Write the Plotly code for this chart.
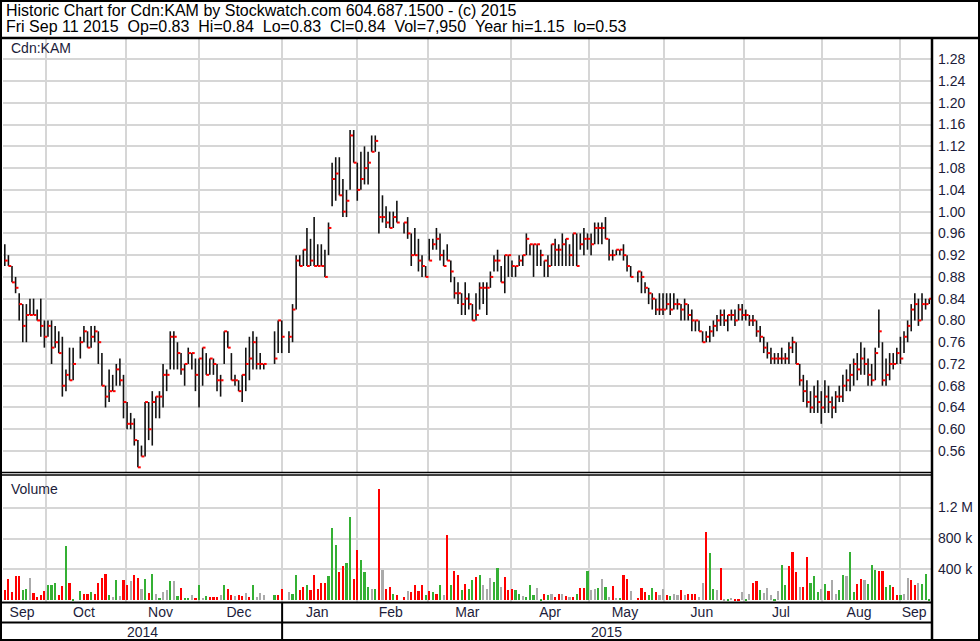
import plotly.graph_objects as go

# daily bars, Sep 2014 - Sep 11 2015 (None = no trade that day)
high = [
    .94, .92, .90, .88, .85, .83, .83, .84, .84, .82,
    .84, .80, .80, .80, .79, .78, .77, .71, .75, .75,
    None, .77, .79, .78, .79, .79, .78, .74, .68, .71,
    .70, .72, .73, .70, .65, .63, .62, .58, .57, .65,
    .65, .67, .66, .67, .72, .71, .78, .78, .76, .74,
    .72, .75, .74, .73, .73, .75, .74, .73, .73, .72,
    .70, .78, .78, .74, .70, .69, .70, .75, .77, .78,
    .77, .74, .72, None, None, .78, .80, .80, None, .78,
    .83, .92, .92, .93, .97, .95, .99, .94, .94, .93,
    .98, 1.09, 1.10, 1.10, 1.06, 1.04, 1.15, 1.15, 1.09, 1.11,
    1.12, 1.11, 1.14, 1.14, 1.11, 1.03, 1.01, 1.00, 1.00, 1.02,
    None, .98, .99, .96, .97, .95, .92, .90, .95, .95,
    .97, .96, .93, .94, .91, .88, .87, .85, .87, .85,
    .83, .85, .87, .87, .87, .89, .92, .93, .90, .92,
    .92, .91, .90, .92, .92, .96, .94, .94, .94, .93,
    .91, .92, .94, .95, .94, .96, .95, .94, .96, .96,
    .96, .97, .96, .96, .98, .98, .98, .99, .95, .93,
    .93, .93, .94, .92, .90, None, .89, .89, .87, .86,
    .85, .84, .85, .85, .85, .85, .85, .84, .83, .84,
    .83, .82, .80, .80, .78, .78, .79, .80, .81, .82,
    .82, .81, .82, .82, .83, .83, .82, .81, .81, .80,
    .79, .77, .76, .75, .74, .74, .75, .74, .76, .77,
    .76, .72, .70, .69, .67, .68, .69, .67, .69, .68,
    .66, .67, .68, .70, .71, .72, .73, .74, .76, .75,
    .73, .72, .75, .82, .76, .73, .74, .74, .75, .77,
    .78, .80, .83, .85, .84, .85, .84, .84,
]
low = [
    .90, .90, .87, .85, .80, .76, .76, .81, .81, .80,
    .77, .75, .77, .72, .75, .74, .66, .67, .69, .69,
    None, .73, .76, .75, .75, .76, .72, .68, .64, .65,
    .67, .68, .68, .62, .60, .60, .57, .53, .55, .55,
    .58, .57, .62, .62, .64, .67, .71, .71, .71, .70,
    .68, .72, .71, .67, .64, .68, .70, .70, .70, .67,
    .66, .72, .75, .69, .68, .67, .65, .67, .69, .71,
    .71, .71, .71, None, None, .72, .74, .74, None, .74,
    .76, .82, .90, .90, .90, .90, .90, .90, .90, .88,
    .92, 1.01, 1.02, 1.03, .99, .99, 1.04, 1.09, 1.02, 1.04,
    1.05, 1.05, 1.11, 1.11, .96, .98, .97, .97, .97, .98,
    None, .96, .95, .90, .92, .89, .88, .88, .91, .93,
    .93, .91, .90, .91, .87, .84, .83, .81, .81, .82,
    .80, .80, .82, .83, .81, .86, .89, .89, .87, .85,
    .88, .88, .88, .90, .90, .92, .92, .88, .90, .90,
    .88, .88, .90, .90, .90, .90, .90, .90, .90, .90,
    .93, .92, .93, .92, .94, .94, .94, .95, .91, .91,
    .92, .92, .91, .89, .88, None, .87, .85, .85, .83,
    .82, .81, .81, .81, .82, .81, .82, .82, .80, .80,
    .80, .78, .78, .78, .76, .76, .76, .77, .78, .79,
    .79, .78, .80, .79, .80, .80, .80, .79, .79, .77,
    .76, .74, .73, .72, .72, .72, .72, .72, .72, .74,
    .72, .68, .65, .64, .63, .63, .63, .61, .63, .63,
    .62, .63, .65, .65, .67, .67, .68, .69, .70, .70,
    .68, .68, .69, .75, .68, .68, .69, .71, .72, .72,
    .74, .76, .78, .80, .79, .80, .82, .83,
]
close = [
    .91, .90, .87, .86, .83, .79, .81, .81, .81, .80,
    .79, .77, .79, .75, .76, .74, .68, .70, .69, .72,
    None, .76, .78, .75, .77, .78, .76, .68, .66, .67,
    .67, .71, .69, .65, .61, .61, .58, .53, .55, .65,
    .60, .65, .66, .66, .70, .70, .77, .77, .74, .71,
    .72, .74, .74, .70, .73, .75, .70, .73, .72, .69,
    .69, .78, .75, .69, .69, .67, .70, .72, .73, .76,
    .72, .72, .72, None, None, .73, .80, .77, None, .77,
    .82, .91, .90, .93, .90, .91, .90, .90, .90, .88,
    .97, 1.06, 1.07, 1.03, 1.00, 1.02, 1.14, 1.09, 1.04, 1.06,
    1.08, 1.09, 1.11, 1.13, .99, .99, .98, .97, .99, .98,
    None, .98, .96, .92, .92, .91, .90, .88, .91, .94,
    .95, .92, .90, .91, .89, .85, .85, .83, .84, .83,
    .80, .81, .86, .86, .86, .88, .91, .91, .87, .92,
    .92, .90, .90, .91, .92, .95, .94, .94, .94, .92,
    .91, .90, .94, .93, .93, .94, .95, .92, .96, .90,
    .94, .95, .95, .94, .97, .97, .97, .95, .92, .92,
    .93, .93, .92, .90, .88, None, .89, .88, .86, .85,
    .84, .82, .82, .82, .83, .82, .83, .83, .82, .83,
    .81, .80, .80, .78, .76, .77, .78, .79, .80, .81,
    .80, .81, .81, .80, .82, .81, .81, .80, .80, .78,
    .77, .75, .74, .73, .73, .73, .73, .73, .75, .76,
    .72, .69, .67, .65, .64, .66, .65, .64, .66, .65,
    .64, .66, .66, .68, .69, .70, .72, .71, .73, .72,
    .70, .69, .74, .78, .69, .70, .72, .72, .74, .73,
    .77, .79, .82, .83, .80, .83, .83, .84,
]
# volume in thousands of shares
volume_k = [
    138, 280, 108, 318, 318, 138, 150, 288, 95, 50,
    65, 120, 206, 206, 224, 65, 181, 697, 224, 22,
    0, 120, 77, 77, 108, 86, 224, 288, 344, 65,
    43, 267, 52, 258, 206, 245, 331, 288, 150, 271,
    95, 344, 86, 34, 108, 138, 245, 245, 52, 159,
    30, 30, 65, 30, 206, 30, 56, 43, 43, 43,
    73, 202, 150, 65, 52, 65, 52, 95, 43, 194,
    43, 99, 65, 0, 0, 65, 65, 150, 0, 108,
    86, 331, 129, 172, 194, 129, 331, 150, 224, 224,
    314, 937, 710, 366, 439, 482, 1075, 280, 654, 516,
    366, 172, 150, 150, 1440, 387, 150, 172, 86, 65,
    0, 43, 120, 108, 206, 120, 206, 65, 120, 108,
    86, 194, 65, 851, 206, 378, 331, 129, 215, 150,
    258, 301, 335, 206, 150, 288, 236, 421, 172, 301,
    138, 150, 129, 77, 52, 43, 194, 65, 163, 22,
    86, 65, 86, 43, 86, 86, 52, 43, 43, 86,
    163, 163, 378, 129, 150, 163, 280, 172, 43, 181,
    34, 30, 331, 280, 120, 0, 34, 163, 108, 65,
    163, 108, 65, 150, 65, 52, 77, 65, 138, 65,
    86, 86, 86, 43, 224, 882, 611, 150, 129, 421,
    22, 22, 30, 9, 22, 108, 22, 86, 224, 245,
    129, 95, 163, 73, 22, 120, 452, 202, 439, 624,
    366, 172, 172, 559, 224, 318, 108, 150, 215, 120,
    258, 86, 129, 335, 310, 624, 108, 215, 280, 267,
    215, 452, 387, 374, 374, 172, 194, 172, 65, 65,
    86, 288, 258, 194, 224, 215, 344, 8,
]
# g = up, r = down, n = unchanged
volume_dir = (
    "rrrrrggnrr" "rrgggrrgrg"
    "ngrrgrrrrg" "ngnrrnrrng"
    "rgngnngngr" "ggnrgngrrr"
    "ngrrnrrnrg" "nnnnngrrnn"
    "ggrrgrrrrr" "gggrrggrrg"
    "ggngrnrrgr" "nrnrrrrgrg"
    "rgnrgrrgrg" "grgnnnggnr"
    "rrggngggng" "rgnrrnrnrg"
    "rrgnngngnr" "ngrrngrrrg"
    "grnnrgnnrn" "rrrnnrggnr"
    "ngnrrngnrr" "gnnngnggrr"
    "rnrrgggngr" "nnggnggrrn"
    "gggrrggrrg" "nnrrnggggr"
    "rnrrngggrr" "ng"
)
month_names = ["Sep", "Oct", "Nov", "Dec", "Jan", "Feb", "Mar",
               "Apr", "May", "Jun", "Jul", "Aug", "Sep"]
month_mid = [4.8, 22.0, 43.3, 65.1, 86.9, 107.3, 128.6,
             151.6, 172.4, 193.8, 215.8, 237.5, 252.8]
month_edge = [11.4, 33.6, 54.1, 77.1, 97.8, 117.7, 140.7,
              162.4, 183.3, 205.5, 227.2, 248.9]
year_names = ["2014", "2015"]
year_mid = [38.3, 167.3]
year_edge = 77.1
price_ticks = [0.56, 0.60, 0.64, 0.68, 0.72, 0.76, 0.80, 0.84, 0.88, 0.92,
               0.96, 1.00, 1.04, 1.08, 1.12, 1.16, 1.20, 1.24, 1.28]
vol_ticks = [400000, 800000, 1200000]
vol_tick_text = ["400 k", "800 k", "1.2 M"]

title_1 = "Historic Chart for Cdn:KAM by Stockwatch.com 604.687.1500 - (c) 2015"
title_2 = ("Fri Sep 11 2015  Op=0.83  Hi=0.84  Lo=0.83  Cl=0.84  "
           "Vol=7,950  Year hi=1.15  lo=0.53").replace("  ", "\u00a0\u00a0")

FONT = "Liberation Sans, Arial, sans-serif"
INK = "#1c1c3a"
GRID = "#d6d6d6"
n = len(close)

# high-low sticks and close ticks as broken line traces
hl_x, hl_y, cl_x, cl_y = [], [], [], []
for i in range(n):
    if close[i] is None:
        continue
    hl_x += [i, i, None]
    hl_y += [low[i], high[i], None]
    cl_x += [i, i + 0.8, None]
    cl_y += [close[i], close[i], None]

dir_colors = {"g": "#34b034", "r": "#ff0000", "n": "#aaaaaa"}
vol_colors = [dir_colors[d] for d in volume_dir]
vol = [v * 1000 for v in volume_k]


def px_x(p):
    return (p - 3) / 928


def px_y(p):
    return (602 - p) / 565


fig = go.Figure()
fig.add_trace(go.Scatter(x=hl_x, y=hl_y, mode="lines", hoverinfo="skip",
                         line=dict(color="#111111", width=1.6),
                         xaxis="x", yaxis="y"))
fig.add_trace(go.Scatter(x=cl_x, y=cl_y, mode="lines", hoverinfo="skip",
                         line=dict(color="#ff0000", width=2),
                         xaxis="x", yaxis="y"))
fig.add_trace(go.Bar(x=list(range(n)), y=vol, width=0.6,
                     marker=dict(color=vol_colors, line=dict(width=0)),
                     xaxis="x2", yaxis="y2", hoverinfo="skip"))

line_black = dict(color="black", width=2)
shapes = [
    dict(type="line", xref="paper", yref="paper", x0=px_x(0), x1=px_x(980),
         y0=px_y(38), y1=px_y(38), line=dict(color="black", width=2.5)),
    dict(type="line", xref="paper", yref="paper", x0=px_x(0), x1=px_x(932),
         y0=px_y(472.5), y1=px_y(472.5), line=dict(color="black", width=1.3)),
    dict(type="line", xref="paper", yref="paper", x0=px_x(0), x1=px_x(932),
         y0=px_y(475), y1=px_y(475), line=dict(color="black", width=1.3)),
    dict(type="line", xref="paper", yref="paper", x0=px_x(0), x1=px_x(932),
         y0=px_y(602.5), y1=px_y(602.5), line=line_black),
    dict(type="line", xref="paper", yref="paper", x0=px_x(0), x1=px_x(932),
         y0=px_y(622.5), y1=px_y(622.5), line=line_black),
    dict(type="line", xref="paper", yref="paper", x0=px_x(932), x1=px_x(932),
         y0=px_y(38), y1=px_y(641), line=dict(color="black", width=2.5)),
    dict(type="line", xref="x2", yref="paper", x0=year_edge, x1=year_edge,
         y0=px_y(602), y1=px_y(640), line=line_black),
    dict(type="rect", xref="paper", yref="paper", x0=px_x(1), x1=px_x(979),
         y0=px_y(1), y1=px_y(640), line=line_black),
]

annotations = [
    dict(text=title_1, xref="paper", yref="paper", x=px_x(4), y=px_y(10),
         xanchor="left", yanchor="middle", showarrow=False,
         font=dict(family=FONT, size=16, color="black")),
    dict(text=title_2, xref="paper", yref="paper", x=px_x(4), y=px_y(27),
         xanchor="left", yanchor="middle", showarrow=False,
         font=dict(family=FONT, size=16, color="black")),
    dict(text="Cdn:KAM", xref="paper", yref="paper", x=px_x(9), y=px_y(48),
         xanchor="left", yanchor="middle", showarrow=False,
         font=dict(family=FONT, size=14, color=INK)),
    dict(text="Volume", xref="paper", yref="paper", x=px_x(9), y=px_y(489),
         xanchor="left", yanchor="middle", showarrow=False,
         font=dict(family=FONT, size=14, color=INK)),
]
for name, xm in zip(year_names, year_mid):
    annotations.append(dict(text=name, xref="x2", yref="paper", x=xm,
                            y=px_y(631.5), xanchor="center", yanchor="middle",
                            showarrow=False,
                            font=dict(family=FONT, size=14, color=INK)))

x_range = [-0.5, n - 0.5]
fig.update_layout(
    width=980, height=641,
    margin=dict(l=3, r=49, t=37, b=39, pad=0),
    paper_bgcolor="white", plot_bgcolor="white",
    showlegend=False, bargap=0,
    font=dict(family=FONT, size=14, color=INK),
    xaxis=dict(domain=[0, 1], anchor="y", range=x_range,
               tickmode="array", tickvals=month_edge, showticklabels=False,
               showgrid=True, gridcolor=GRID, gridwidth=2,
               zeroline=False, ticks="", showline=False),
    yaxis=dict(domain=[px_y(472), 1], side="right", range=[0.5214, 1.321],
               tickmode="array", tickvals=price_ticks, tickformat=".2f",
               showgrid=True, gridcolor=GRID, gridwidth=2, zeroline=False,
               ticks="", ticklabelstandoff=6,
               tickfont=dict(family=FONT, size=14, color=INK)),
    xaxis2=dict(domain=[0, 1], anchor="y2", range=x_range,
                tickmode="array", tickvals=month_mid, ticktext=month_names,
                showgrid=False, zeroline=False, ticks="",
                tickfont=dict(family=FONT, size=14, color=INK),
                minor=dict(tickmode="array", tickvals=month_edge,
                           showgrid=True, gridcolor=GRID, gridwidth=2,
                           ticks="")),
    yaxis2=dict(domain=[0, px_y(475)], side="right",
                range=[-20000, 1620000],
                tickmode="array", tickvals=vol_ticks, ticktext=vol_tick_text,
                showgrid=True, gridcolor=GRID, gridwidth=2, zeroline=False,
                ticks="", ticklabelstandoff=6,
                tickfont=dict(family=FONT, size=14, color=INK)),
    shapes=shapes,
    annotations=annotations,
)

# page default body margin would shift the 980x641 figure off the window
fig.write_html("out.html", config={"displayModeBar": False},
               post_script="document.body.style.margin='0';")
